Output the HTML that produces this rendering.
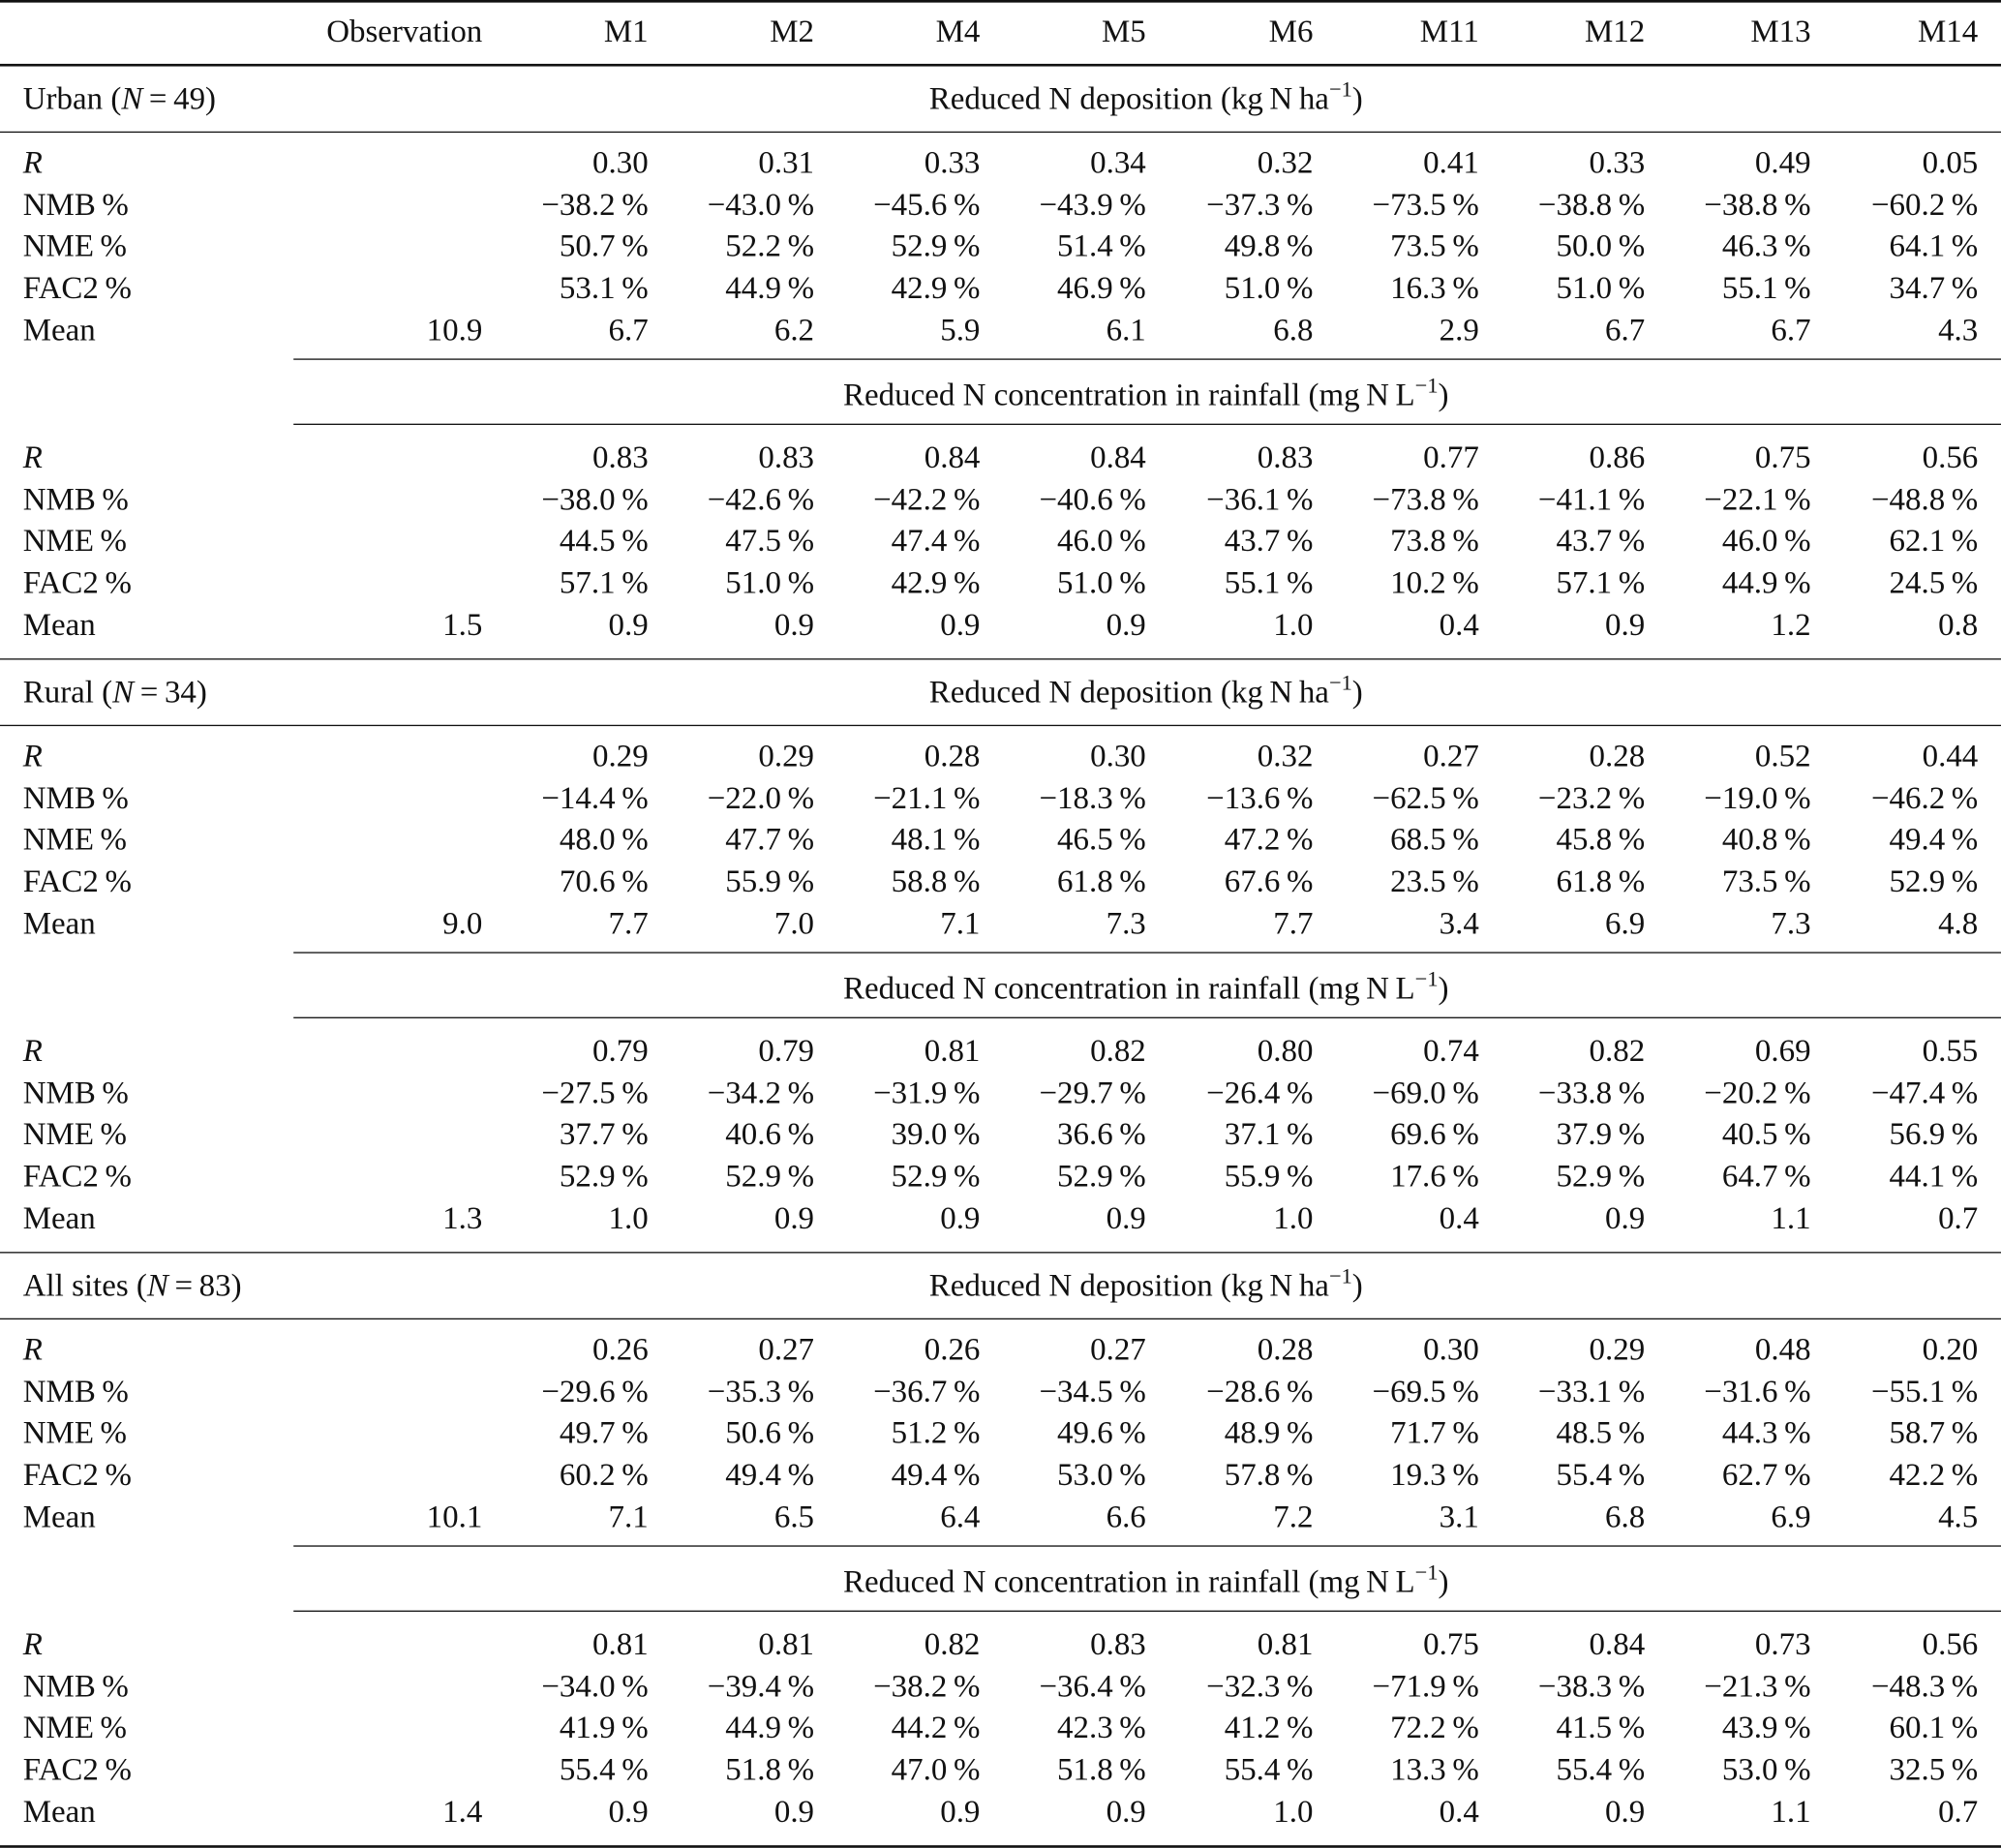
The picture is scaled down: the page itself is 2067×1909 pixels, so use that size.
<!DOCTYPE html>
<html><head><meta charset="utf-8">
<style>
html,body{margin:0;padding:0;background:#fff;}
body{width:2067px;height:1907px;overflow:hidden;}
#wrap{position:absolute;left:0;top:0;width:1568px;height:1447px;transform:scale(1.31824);transform-origin:0 0;font-family:"Liberation Serif","DejaVu Serif",serif;font-size:25px;color:#111;}
.t{position:absolute;white-space:nowrap;line-height:1;transform:translateY(-50%);}
.r{text-align:right;}
.rule{position:absolute;height:1.4px;background:#111;}
sup{font-size:17px;vertical-align:0;position:relative;top:-10px;}
i{font-style:italic;}
</style></head>
<body>
<div id="wrap"></div>
<script>
const columns=["Observation","M1","M2","M4","M5","M6","M11","M12","M13","M14"];
const colRight=[378,508,638,768,898,1029,1159,1289,1419,1550];
const rowLabels=["<i>R</i>","NMB\u2009%","NME\u2009%","FAC2\u2009%","Mean"];
const sections=["Urban (<i>N</i>\u2009=\u200949)","Rural (<i>N</i>\u2009=\u200934)","All sites (<i>N</i>\u2009=\u200983)"];
const subheads=["Reduced N deposition (kg\u2009N\u2009ha<sup>\u22121</sup>)","Reduced N concentration in rainfall (mg\u2009N\u2009L<sup>\u22121</sup>)"];
const urbanDep=[["","0.30","0.31","0.33","0.34","0.32","0.41","0.33","0.49","0.05"],["","−38.2","−43.0","−45.6","−43.9","−37.3","−73.5","−38.8","−38.8","−60.2"],["","50.7","52.2","52.9","51.4","49.8","73.5","50.0","46.3","64.1"],["","53.1","44.9","42.9","46.9","51.0","16.3","51.0","55.1","34.7"],["10.9","6.7","6.2","5.9","6.1","6.8","2.9","6.7","6.7","4.3"]];
const urbanConc=[["","0.83","0.83","0.84","0.84","0.83","0.77","0.86","0.75","0.56"],["","−38.0","−42.6","−42.2","−40.6","−36.1","−73.8","−41.1","−22.1","−48.8"],["","44.5","47.5","47.4","46.0","43.7","73.8","43.7","46.0","62.1"],["","57.1","51.0","42.9","51.0","55.1","10.2","57.1","44.9","24.5"],["1.5","0.9","0.9","0.9","0.9","1.0","0.4","0.9","1.2","0.8"]];
const ruralDep=[["","0.29","0.29","0.28","0.30","0.32","0.27","0.28","0.52","0.44"],["","−14.4","−22.0","−21.1","−18.3","−13.6","−62.5","−23.2","−19.0","−46.2"],["","48.0","47.7","48.1","46.5","47.2","68.5","45.8","40.8","49.4"],["","70.6","55.9","58.8","61.8","67.6","23.5","61.8","73.5","52.9"],["9.0","7.7","7.0","7.1","7.3","7.7","3.4","6.9","7.3","4.8"]];
const ruralConc=[["","0.79","0.79","0.81","0.82","0.80","0.74","0.82","0.69","0.55"],["","−27.5","−34.2","−31.9","−29.7","−26.4","−69.0","−33.8","−20.2","−47.4"],["","37.7","40.6","39.0","36.6","37.1","69.6","37.9","40.5","56.9"],["","52.9","52.9","52.9","52.9","55.9","17.6","52.9","64.7","44.1"],["1.3","1.0","0.9","0.9","0.9","1.0","0.4","0.9","1.1","0.7"]];
const allDep=[["","0.26","0.27","0.26","0.27","0.28","0.30","0.29","0.48","0.20"],["","−29.6","−35.3","−36.7","−34.5","−28.6","−69.5","−33.1","−31.6","−55.1"],["","49.7","50.6","51.2","49.6","48.9","71.7","48.5","44.3","58.7"],["","60.2","49.4","49.4","53.0","57.8","19.3","55.4","62.7","42.2"],["10.1","7.1","6.5","6.4","6.6","7.2","3.1","6.8","6.9","4.5"]];
const allConc=[["","0.81","0.81","0.82","0.83","0.81","0.75","0.84","0.73","0.56"],["","−34.0","−39.4","−38.2","−36.4","−32.3","−71.9","−38.3","−21.3","−48.3"],["","41.9","44.9","44.2","42.3","41.2","72.2","41.5","43.9","60.1"],["","55.4","51.8","47.0","51.8","55.4","13.3","55.4","53.0","32.5"],["1.4","0.9","0.9","0.9","0.9","1.0","0.4","0.9","1.1","0.7"]];
const blocks=[urbanDep,urbanConc,ruralDep,ruralConc,allDep,allConc];

const W=document.getElementById('wrap');
function txt(html,x,y,right,name){
  const d=document.createElement('div');
  d.className='t'+(right?' r':'');
  d.innerHTML=html;
  if(right){d.style.right=(1568-x)+'px';}else{d.style.left=x+'px';}
  d.style.top=y+'px';
  
  
  W.appendChild(d);
  return d;
}
function rule(y,x0,x1,h,name){
  const d=document.createElement('div');
  d.className='rule';
  d.style.top=y+'px';d.style.left=x0+'px';d.style.width=(x1-x0)+'px';
  if(h)d.style.height=h+'px';
  
  
  W.appendChild(d);
}
rule(0,0,1568,1.8,'top-rule');
columns.forEach((c,i)=>txt(c,colRight[i],25,true,'column-header'));
rule(50,0,1568,1.8,'header-rule');
const secStart=[51,516,981];
const step=32.7;
sections.forEach((s,si)=>{
  const y0=secStart[si];
  txt(s,18,y0+27,false,'section-label');
  for(let b=0;b<2;b++){
    const subY=b===0?y0+27:y0+259;
    const el=txt(subheads[b],898,subY,false,'subheader');
    el.style.left='898px';el.style.transform='translate(-50%,-50%)';
    if(b===1){rule(y0+230,230,1568,1.4,'subheader-top-rule');}
    rule(b===0?y0+52:y0+281,b===0?0:230,1568,1.4,'subheader-rule');
    const rows=blocks[si*2+b];
    const firstRow=b===0?y0+77:y0+308;
    rows.forEach((row,ri)=>{
      const y=firstRow+ri*step;
      txt(rowLabels[ri],18,y,false,'row-label');
      row.forEach((v,ci)=>{
        if(v==='')return;
        const pct=(ri===1||ri===2||ri===3);
        txt(v+(pct?'\u2009%':''),colRight[ci],y,true,'value-cell');
      });
    });
  }
  rule(y0+465,0,1568,si===2?1.8:1.4,si===2?'bottom-rule':'section-rule');
});
</script>
</body></html>
